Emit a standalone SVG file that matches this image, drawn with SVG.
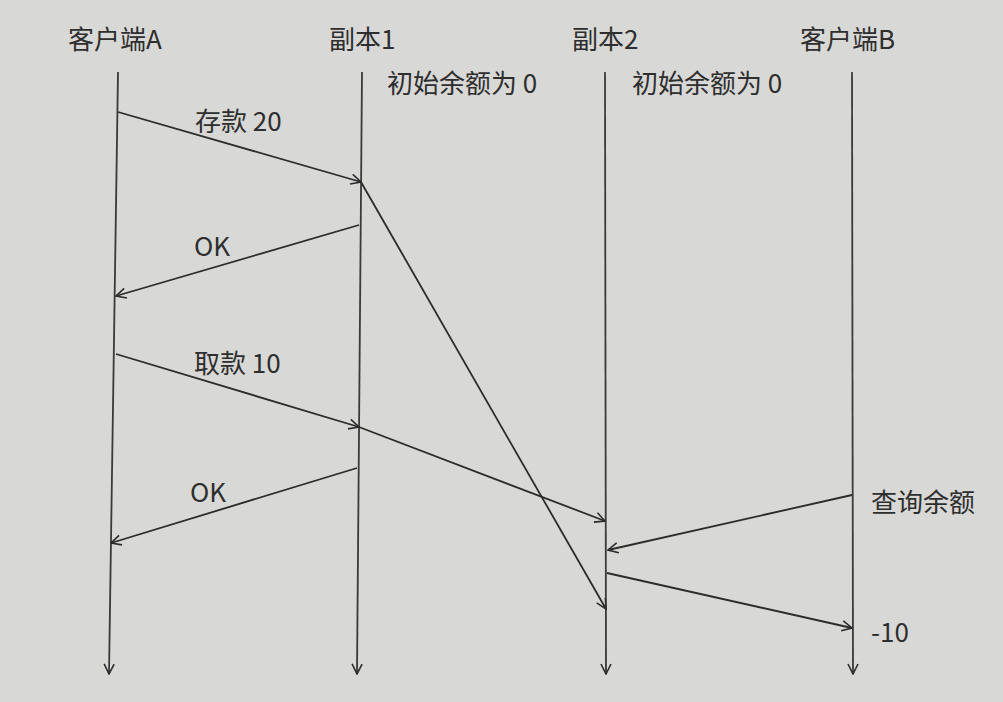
<svg xmlns="http://www.w3.org/2000/svg" width="1003" height="702" viewBox="0 0 1003 702">
<defs>
<marker id="arr" viewBox="0 0 12 12" refX="11" refY="6" markerWidth="12" markerHeight="12" markerUnits="userSpaceOnUse" orient="auto">
<path d="M1,1 L11,6 L1,11" fill="none" stroke="#2b2b2b" stroke-width="1.6"/>
</marker>
</defs>
<style>
text{font-family:"Noto Sans CJK SC","Noto Sans",sans-serif;fill:#2e2e2e;font-size:26px}
.life{stroke:#3a3a3a;stroke-width:1.8;fill:none}
.msg{stroke:#2b2b2b;stroke-width:1.8;fill:none}
</style>
<rect width="1003" height="702" fill="#d8d8d6"/>
<g id="clientA">
<text x="68" y="49">客户端A</text>
<line class="life" x1="118" y1="72" x2="109" y2="674" marker-end="url(#arr)"/>
</g>
<g id="replica1">
<text x="329" y="49">副本1</text>
<text x="387" y="93">初始余额为 0</text>
<line class="life" x1="362" y1="72" x2="357" y2="674" marker-end="url(#arr)"/>
</g>
<g id="replica2">
<text x="572" y="49">副本2</text>
<text x="632" y="93">初始余额为 0</text>
<line class="life" x1="605" y1="72" x2="606" y2="674" marker-end="url(#arr)"/>
</g>
<g id="clientB">
<text x="800" y="49">客户端B</text>
<line class="life" x1="852" y1="72" x2="853" y2="674" marker-end="url(#arr)"/>
</g>
<g id="connectors">
<line class="msg" x1="118" y1="112" x2="361" y2="182" marker-end="url(#arr)"/>
<text x="195" y="131">存款 20</text>
<line class="msg" x1="359" y1="225" x2="116" y2="296" marker-end="url(#arr)"/>
<text x="194" y="256">OK</text>
<line class="msg" x1="116" y1="354" x2="359" y2="427" marker-end="url(#arr)"/>
<text x="194" y="373">取款 10</text>
<line class="msg" x1="359" y1="427" x2="605" y2="521" marker-end="url(#arr)"/>
<line class="msg" x1="357" y1="468" x2="111" y2="543" marker-end="url(#arr)"/>
<text x="190" y="502">OK</text>
<line class="msg" x1="361" y1="182" x2="606" y2="609" marker-end="url(#arr)"/>
<line class="msg" x1="852" y1="495" x2="608" y2="550" marker-end="url(#arr)"/>
<text x="871" y="512">查询余额</text>
<line class="msg" x1="607" y1="573" x2="852" y2="628" marker-end="url(#arr)"/>
<text x="871" y="642">-10</text>
</g>
</svg>
